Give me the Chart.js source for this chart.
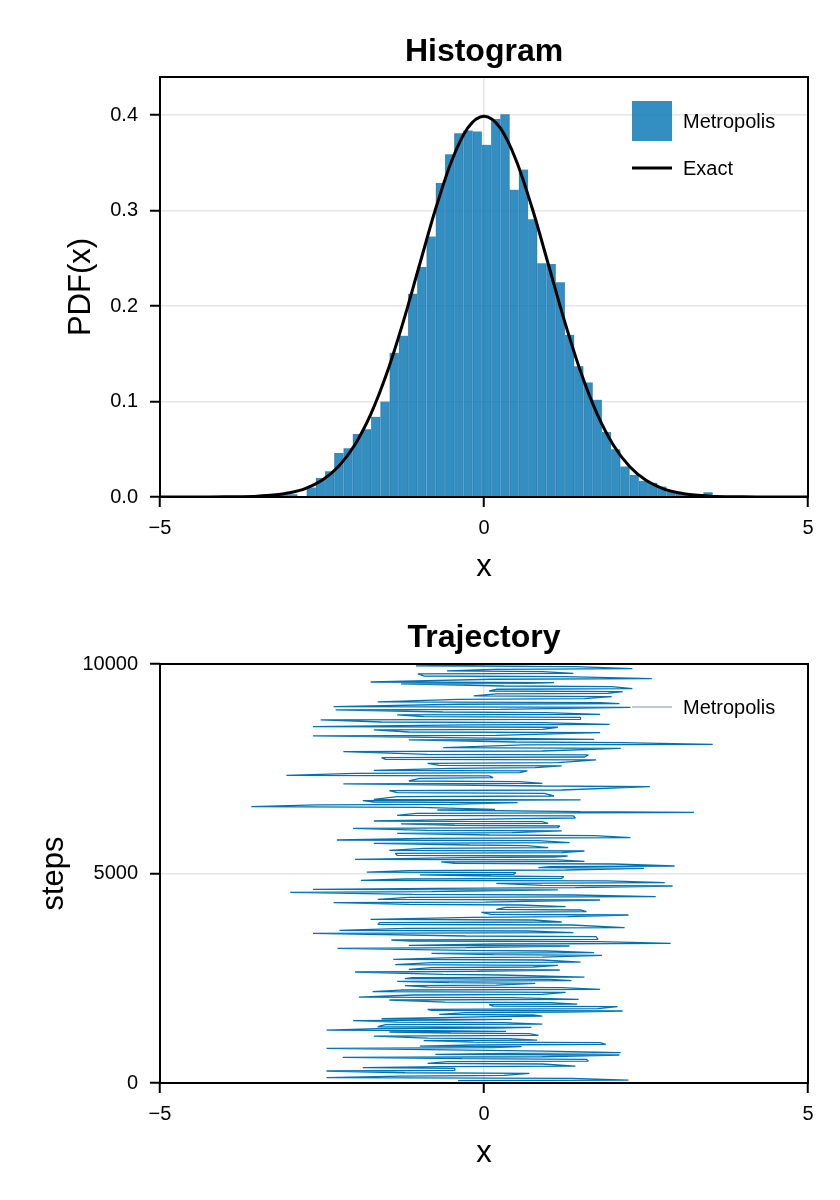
<!DOCTYPE html>
<html>
<head>
<meta charset="utf-8">
<title>Metropolis sampling</title>
<script src="https://cdn.jsdelivr.net/npm/chart.js"></script>
<style>
  body { margin: 0; background: #fff; }
  canvas { position: absolute; left: 0; }
</style>
</head>
<body>
<canvas id="histChart" width="840" height="600" style="top:0"></canvas>
<canvas id="trajChart" width="840" height="600" style="top:600px"></canvas>
<script>
// histogram bins (centres) and densities
const binCenters = [
  -3.236, -3.094, -2.951, -2.809, -2.666, -2.524, -2.382, -2.239, -2.097, -1.954,
  -1.812, -1.670, -1.527, -1.385, -1.242, -1.100, -0.958, -0.815, -0.673, -0.530,
  -0.388, -0.246, -0.103, 0.039, 0.182, 0.324, 0.466, 0.609, 0.751, 0.894,
  1.036, 1.178, 1.321, 1.463, 1.606, 1.748, 1.890, 2.033, 2.175, 2.318,
  2.460, 2.602, 2.745, 2.887, 3.030, 3.172, 3.314, 3.457
];
const binDensity = [
  0.002, 0.003, 0.003, 0.000, 0.010, 0.020, 0.027, 0.046, 0.051, 0.066,
  0.071, 0.084, 0.100, 0.151, 0.169, 0.213, 0.241, 0.273, 0.329, 0.359,
  0.381, 0.384, 0.383, 0.369, 0.396, 0.401, 0.322, 0.343, 0.291, 0.245,
  0.244, 0.225, 0.170, 0.137, 0.120, 0.102, 0.068, 0.050, 0.032, 0.023,
  0.017, 0.015, 0.011, 0.006, 0.004, 0.002, 0.002, 0.005
];

// exact standard normal pdf
const exactX = [
  -5, -4.75, -4.5, -4.25, -4, -3.75, -3.5, -3.25, -3, -2.75, -2.5, -2.25, -2, -1.75,
  -1.5, -1.25, -1, -0.75, -0.5, -0.25, 0, 0.25, 0.5, 0.75, 1, 1.25, 1.5, 1.75,
  2, 2.25, 2.5, 2.75, 3, 3.25, 3.5, 3.75, 4, 4.25, 4.5, 4.75, 5
];
const exactY = [
  0.0000015, 0.0000051, 0.000016, 0.000048, 0.000134, 0.000353, 0.000873, 0.002029,
  0.004432, 0.009094, 0.017528, 0.031740, 0.053991, 0.086277, 0.129518, 0.182649,
  0.241971, 0.301137, 0.352065, 0.386668, 0.398942, 0.386668, 0.352065, 0.301137,
  0.241971, 0.182649, 0.129518, 0.086277, 0.053991, 0.031740, 0.017528, 0.009094,
  0.004432, 0.002029, 0.000873, 0.000353, 0.000134, 0.000048, 0.000016, 0.0000051, 0.0000015
];

// trajectory: for each sampled step, the left and right reach of the chain
const trajSteps = [
  55, 111, 166, 230, 286, 350, 389, 453, 509, 565,
  612, 668, 708, 763, 827, 867, 907, 962, 1010, 1058,
  1121, 1177, 1217, 1249, 1296, 1328, 1392, 1440, 1487, 1519,
  1583, 1623, 1678, 1718, 1758, 1822, 1869, 1917, 1981, 2036,
  2100, 2164, 2219, 2275, 2323, 2379, 2426, 2474, 2514, 2577,
  2649, 2697, 2753, 2808, 2872, 2936, 2991, 3047, 3095, 3150,
  3214, 3270, 3317, 3373, 3413, 3493, 3572, 3628, 3692, 3771,
  3827, 3890, 3954, 4010, 4073, 4129, 4193, 4248, 4304, 4368,
  4431, 4487, 4551, 4607, 4646, 4702, 4766, 4822, 4869, 4925,
  4965, 5020, 5068, 5124, 5164, 5227, 5275, 5323, 5378, 5418,
  5482, 5537, 5601, 5665, 5720, 5784, 5840, 5904, 5959, 6015,
  6079, 6134, 6182, 6238, 6309, 6373, 6437, 6461, 6516, 6580,
  6636, 6691, 6739, 6755, 6835, 6914, 6978, 7073, 7137, 7193,
  7272, 7328, 7392, 7447, 7511, 7567, 7630, 7710, 7766, 7829,
  7909, 7988, 8068, 8124, 8187, 8227, 8283, 8362, 8426, 8490,
  8545, 8601, 8665, 8728, 8784, 8840, 8903, 8967, 9039, 9079,
  9158, 9222, 9285, 9341, 9397, 9460, 9524, 9556, 9636, 9699,
  9763, 9819, 9874, 9938, 9978
];
const trajLeft = [
  -0.40, -2.43, -1.28, -1.22, -2.43, -1.87, -0.66, -0.87, -0.57, -0.34,
  -2.18, -0.75, 0.37, 0.08, -2.43, -0.99, -0.16, -0.16, -0.93, -0.87,
  -1.70, -0.51, -1.46, -2.43, -1.64, -1.64, -1.52, -1.34, -2.02, -1.58,
  0.14, -0.69, -0.28, -0.81, -0.87, 0.14, 0.08, -0.60, -1.46, -1.93,
  -1.10, -1.72, -1.28, -0.87, -1.22, -0.54, -1.34, -1.22, -1.10, -0.63,
  -1.99, -1.16, -0.81, -1.37, -0.81, -1.40, -0.45, 0.14, -0.81, -0.28,
  -2.26, -1.16, 0.19, -1.13, -1.43, -0.28, -2.64, -2.23, -1.22, -1.64,
  -1.61, -1.75, -0.19, 0.11, -0.04, 0.19, 0.34, -1.16, -2.32, -1.64,
  -1.16, -1.10, -2.99, -2.64, -0.75, 0.90, 0.19, -1.90, -1.22, 0.11,
  -0.99, -1.81, -1.16, 0.84, 1.02, -0.45, -0.66, -1.99, -0.34, -1.34,
  -1.37, -1.46, -0.93, -0.22, -1.70, -2.27, -0.93, 0.08, -1.34, -0.87,
  -2.02, -0.45, -1.28, -1.70, 0.52, -1.34, -1.05, 1.49, -0.72, -3.59,
  -2.58, -1.70, -1.87, -1.70, -1.34, -1.34, -1.46, 0.90, -2.17, -1.16,
  -0.99, -3.05, -1.99, -1.70, -0.51, -0.69, -0.87, -1.52, -1.58, -0.87,
  -2.17, -0.63, 0.61, 0.49, -1.16, -0.57, -2.64, -1.16, -1.70, -2.64,
  -0.28, -1.58, -2.52, -0.93, -1.34, -0.63, -2.29, -2.32, -0.40, -1.64,
  -0.40, -0.16, 0.19, 0.08, 0.19, 0.31, -1.28, -1.75, 0.14, -0.93,
  -1.02, -0.57, 0.14, -1.05, 0.02
];
const trajRight = [
  2.23, 1.35, 0.31, 0.70, -0.45, -0.45, 1.41, 0.90, 1.61, 1.58,
  0.90, 2.09, 2.11, 0.93, 0.14, 0.58, 1.88, 1.79, 0.82, 0.37,
  0.84, 0.70, 0.34, -0.81, 0.19, 0.73, 0.90, 0.31, -0.63, 0.43,
  0.90, 0.76, 1.26, 2.14, 1.76, 2.06, 1.44, 1.02, 1.46, 0.43,
  0.90, 1.26, 1.79, 1.20, 0.19, 0.79, 1.35, 1.02, 1.55, 0.25,
  -0.10, 1.17, 0.76, 1.14, 1.49, 0.90, 0.90, 1.82, 1.70, 0.99,
  -0.28, 1.32, 2.88, 1.79, 1.76, 1.73, 1.38, 0.67, 2.17, 1.35,
  1.20, 0.76, 1.29, 2.23, 1.58, 1.49, 1.26, 0.55, 0.02, 1.79,
  2.65, 1.38, -0.81, 1.14, 1.41, 2.91, 2.79, 1.91, 1.20, 1.23,
  0.46, 0.49, 1.26, 2.47, 2.94, 2.00, 1.55, 1.14, 1.08, 1.29,
  1.20, 1.55, 0.99, 0.67, 1.32, 0.84, 2.26, 1.70, 0.43, 1.20,
  1.14, 1.17, 0.99, 0.90, 1.41, 1.38, 2.68, 3.24, 0.17, -0.99,
  -0.54, 0.52, 0.55, 1.49, 1.08, 0.93, 1.20, 2.56, 0.90, 0.55,
  0.14, 0.08, 0.55, 0.67, 0.79, 1.20, 1.14, 1.73, 1.55, 1.61,
  0.90, 2.11, 3.53, 2.11, 1.70, 0.43, 0.19, 1.79, 0.90, 1.14,
  1.94, 0.90, 1.49, 1.49, 1.79, 0.96, 0.25, 2.26, 2.09, 1.79,
  1.55, 1.97, 1.91, 2.14, 2.29, 1.97, 0.67, 1.08, 2.59, 1.26,
  1.38, 0.90, 2.29, 1.41, 0.79
];

const xTicks = [-5, 0, 5];
const histYTicks = [0, 0.1, 0.2, 0.3, 0.4];
const trajYTicks = [0, 5000, 10000];

const BLUE = 'rgb(0, 114, 178)';
const FONT = '"Liberation Sans", Arial, sans-serif';
Chart.defaults.font.family = FONT;
Chart.defaults.color = '#000';

const minus = v => (v < 0 ? '\u2212' + Math.abs(v) : String(v));

// box around the plot area and a legend tucked in the top right corner
const frameAndLegend = {
  id: 'frameAndLegend',
  afterDatasetsDraw(chart, args, opts) {
    const { ctx, chartArea: a } = chart;
    ctx.save();
    ctx.strokeStyle = '#000';
    ctx.lineWidth = 2;
    ctx.strokeRect(a.left, a.top, a.right - a.left, a.bottom - a.top);
    ctx.font = '20px ' + FONT;
    ctx.textAlign = 'left';
    ctx.textBaseline = 'middle';
    opts.items.forEach((it, i) => {
      const x = a.right - 176;
      const y = a.top + opts.top + i * 47;
      if (it.kind === 'patch') {
        ctx.fillStyle = it.color;
        ctx.fillRect(x, y - 20, 40, 40);
      } else {
        ctx.strokeStyle = it.color;
        ctx.lineWidth = it.width;
        ctx.beginPath();
        ctx.moveTo(x, y);
        ctx.lineTo(x + 40, y);
        ctx.stroke();
      }
      ctx.fillStyle = '#000';
      ctx.fillText(it.label, x + 51, y + 1);
    });
    ctx.restore();
  }
};

function axes(opts) {
  return {
    x: {
      type: 'linear', min: -5, max: 5, offset: false,
      afterBuildTicks: s => { s.ticks = xTicks.map(v => ({ value: v })); },
      afterFit: s => { s.height = opts.xHeight; },
      ticks: { font: { size: 20 }, padding: 9, callback: minus, maxRotation: 0 },
      grid: { offset: false, color: 'rgba(0,0,0,0.1)', lineWidth: 1.5, tickLength: 10, tickColor: '#000', tickWidth: 2 },
      border: { display: false },
      title: { display: true, text: 'x', font: { size: 31, lineHeight: 1 }, padding: { top: 0, bottom: opts.xTitlePad } }
    },
    y: {
      type: 'linear', min: 0, max: opts.yMax,
      afterBuildTicks: s => { s.ticks = opts.yTicks.map(v => ({ value: v })); },
      afterFit: s => { s.width = 160; },
      ticks: { font: { size: 20 }, padding: 12, callback: opts.yFormat },
      grid: { color: 'rgba(0,0,0,0.1)', lineWidth: 1.5, tickLength: 10, tickColor: '#000', tickWidth: 2 },
      border: { display: false },
      title: { display: true, text: opts.yTitle, font: { size: 31, lineHeight: 1 }, padding: { top: opts.yTitlePad, bottom: 0 } }
    }
  };
}

function titleOpts(text, top, bottom) {
  return {
    display: true, text, fullSize: false,
    font: { size: 32, weight: 'bold', lineHeight: 1 },
    padding: { top, bottom }
  };
}

new Chart(document.getElementById('histChart'), {
  type: 'bar',
  data: {
    datasets: [
      {
        type: 'line',
        label: 'Exact',
        data: exactX.map((x, i) => ({ x, y: exactY[i] })),
        borderColor: '#000',
        borderWidth: 3,
        pointRadius: 0,
        cubicInterpolationMode: 'monotone',
        order: 0
      },
      {
        label: 'Metropolis',
        data: binCenters.map((x, i) => ({ x, y: binDensity[i] })),
        backgroundColor: 'rgba(0, 114, 178, 0.8)',
        borderColor: 'rgba(120, 150, 170, 0.6)',
        borderWidth: { left: 0.5, right: 0.5, top: 0, bottom: 0 },
        barPercentage: 1,
        categoryPercentage: 1,
        order: 1
      }
    ]
  },
  options: {
    responsive: false,
    animation: false,
    layout: { padding: { left: 0, right: 32, top: 0, bottom: 0 } },
    scales: axes({
      xHeight: 103, xTitlePad: 17, yMax: 0.44, yTicks: histYTicks,
      yFormat: v => v.toFixed(1), yTitle: 'PDF(x)', yTitlePad: 66
    }),
    plugins: {
      legend: { display: false },
      tooltip: { enabled: false },
      title: titleOpts('Histogram', 36, 9),
      frameAndLegend: {
        top: 44,
        items: [
          { kind: 'patch', color: 'rgba(0, 114, 178, 0.8)', label: 'Metropolis' },
          { kind: 'line', color: '#000', width: 3, label: 'Exact' }
        ]
      }
    }
  },
  plugins: [frameAndLegend]
});

// zig-zag through each sampled step, left reach then right reach
const trajPoints = [];
trajSteps.forEach((s, i) => {
  const a = i % 2 === 0 ? trajLeft[i] : trajRight[i];
  const b = i % 2 === 0 ? trajRight[i] : trajLeft[i];
  trajPoints.push({ x: a, y: s }, { x: b, y: s + 15 });
});

new Chart(document.getElementById('trajChart'), {
  type: 'scatter',
  data: {
    datasets: [{
      label: 'Metropolis',
      data: trajPoints,
      showLine: true,
      borderColor: BLUE,
      borderWidth: 1.3,
      borderJoinStyle: 'bevel',
      pointRadius: 0
    }]
  },
  options: {
    responsive: false,
    animation: false,
    layout: { padding: { left: 0, right: 32, top: 0, bottom: 0 } },
    scales: axes({
      xHeight: 117, xTitlePad: 31, yMax: 10000, yTicks: trajYTicks,
      yFormat: v => String(v), yTitle: 'steps', yTitlePad: 39
    }),
    plugins: {
      legend: { display: false },
      tooltip: { enabled: false },
      title: titleOpts('Trajectory', 22, 10),
      frameAndLegend: {
        top: 43,
        items: [{ kind: 'line', color: 'rgba(90, 120, 145, 0.5)', width: 1.5, label: 'Metropolis' }]
      }
    }
  },
  plugins: [frameAndLegend]
});
</script>
</body>
</html>
